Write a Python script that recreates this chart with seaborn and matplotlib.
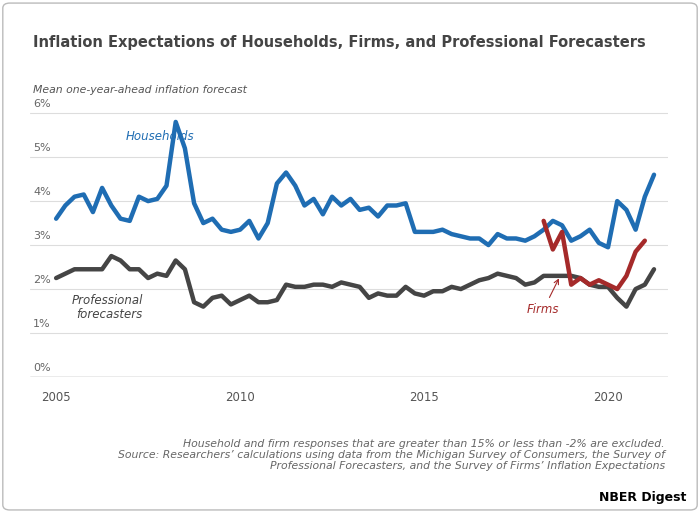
import numpy as np
import pandas as pd
import seaborn as sns
import matplotlib.pyplot as plt
from matplotlib.patches import FancyBboxPatch

# quarterly values
hh_start = 2005.0
households = [3.6, 3.9, 4.1, 4.15, 3.75, 4.3, 3.9, 3.6, 3.55, 4.1, 4.0, 4.05,
              4.35, 5.8, 5.2, 3.95, 3.5, 3.6, 3.35, 3.3, 3.35, 3.55, 3.15, 3.5,
              4.4, 4.65, 4.35, 3.9, 4.05, 3.7, 4.1, 3.9, 4.05, 3.8, 3.85, 3.65,
              3.9, 3.9, 3.95, 3.3, 3.3, 3.3, 3.35, 3.25, 3.2, 3.15, 3.15, 3.0,
              3.25, 3.15, 3.15, 3.1, 3.2, 3.35, 3.55, 3.45, 3.1, 3.2, 3.35, 3.05,
              2.95, 4.0, 3.8, 3.35, 4.1, 4.6]
professional = [2.25, 2.35, 2.45, 2.45, 2.45, 2.45, 2.75, 2.65, 2.45, 2.45, 2.25, 2.35,
                2.3, 2.65, 2.45, 1.7, 1.6, 1.8, 1.85, 1.65, 1.75, 1.85, 1.7, 1.7,
                1.75, 2.1, 2.05, 2.05, 2.1, 2.1, 2.05, 2.15, 2.1, 2.05, 1.8, 1.9,
                1.85, 1.85, 2.05, 1.9, 1.85, 1.95, 1.95, 2.05, 2.0, 2.1, 2.2, 2.25,
                2.35, 2.3, 2.25, 2.1, 2.15, 2.3, 2.3, 2.3, 2.3, 2.25, 2.1, 2.05,
                2.05, 1.8, 1.6, 2.0, 2.1, 2.45]
firms_start = 2018.25
firms = [3.55, 2.9, 3.3, 2.1, 2.25, 2.1, 2.2, 2.1, 2.0, 2.3, 2.85, 3.1]

yr_hh = hh_start + 0.25 * np.arange(len(households))
yr_f = firms_start + 0.25 * np.arange(len(firms))
df = pd.concat([
    pd.DataFrame({'year': yr_hh, 'value': households, 'series': 'Households'}),
    pd.DataFrame({'year': yr_hh, 'value': professional, 'series': 'Professional'}),
    pd.DataFrame({'year': yr_f, 'value': firms, 'series': 'Firms'}),
])
palette = {'Households': '#1f6db3', 'Professional': '#454545', 'Firms': '#a52a2a'}

sns.set_style('white')
fig = plt.figure(figsize=(7, 5.12), dpi=100)
fig.patches.append(FancyBboxPatch((0.004, 0.004), 0.992, 0.99, boxstyle='round,pad=0,rounding_size=0.01',
                                  transform=fig.transFigure, fill=False, ec='#bbbbbb', lw=1))
ax = fig.add_axes([30 / 700, 1 - 377 / 512, 638 / 700, 281 / 512])

for y in range(1, 7):
    ax.axhline(y, color='#dddddd', lw=0.8, zorder=0)
ax.axhline(0, color='#999999', lw=1, zorder=0)

sns.lineplot(data=df, x='year', y='value', hue='series', palette=palette,
             linewidth=3.2, legend=False, ax=ax, estimator=None)

ax.set_xlim(2004.29, 2021.63)
ax.set_ylim(0, 6.39)
ax.set_xticks([2005, 2010, 2015, 2020])
ax.tick_params(axis='x', length=0, labelsize=8.5, colors='#555555', pad=10)
ax.set_yticks([])
ax.set_xlabel('')
ax.set_ylabel('')
for s in ax.spines.values():
    s.set_visible(False)
for y in range(0, 7):
    ax.text(2004.38, y + 0.2, f'{y}%', fontsize=8, color='#666666', va='center')

ax.text(2006.9, 5.4, 'Households', color='#1f6db3', style='italic', fontsize=8.5)
ax.text(2007.35, 1.35, 'Professional\nforecasters', color='#454545', style='italic',
        fontsize=8.5, ha='right', linespacing=1.1)
ax.annotate('Firms', xy=(2018.7, 2.3), xytext=(2017.8, 1.45), color='#a52a2a',
            style='italic', fontsize=8.5,
            arrowprops=dict(arrowstyle='->', color='#a52a2a', lw=0.8))

fig.text(33 / 700, 1 - 43 / 512, 'Inflation Expectations of Households, Firms, and Professional Forecasters',
         fontsize=10.5, fontweight='bold', color='#444444', va='center')
fig.text(33 / 700, 1 - 90 / 512, 'Mean one-year-ahead inflation forecast', fontsize=7.8,
         style='italic', color='#555555', va='center')
fig.text(665 / 700, 1 - 455 / 512,
         'Household and firm responses that are greater than 15% or less than -2% are excluded.\n'
         'Source: Researchers\u2019 calculations using data from the Michigan Survey of Consumers, the Survey of\n'
         'Professional Forecasters, and the Survey of Firms\u2019 Inflation Expectations',
         fontsize=7.8, style='italic', color='#666666', ha='right', va='center', linespacing=1.15)
fig.text(686 / 700, 1 - 497 / 512, 'NBER Digest', fontsize=9, fontweight='bold',
         color='black', ha='right', va='center')

fig.savefig('out.png', dpi=100)
